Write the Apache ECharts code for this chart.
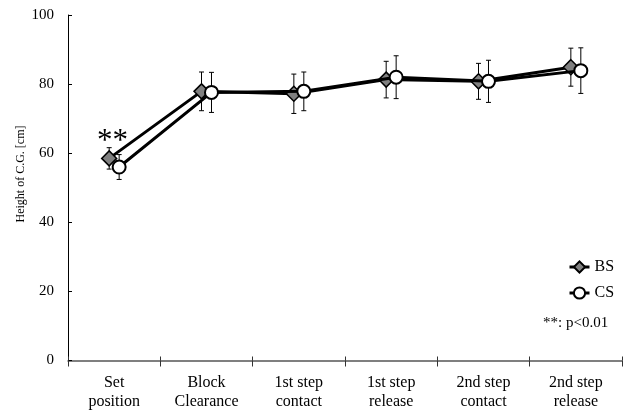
<!DOCTYPE html>
<html>
<head>
<meta charset="utf-8">
<script src="https://cdn.jsdelivr.net/npm/echarts@6/dist/echarts.min.js"></script>
<style>html,body{margin:0;padding:0;background:#fff;}#main{width:631px;height:415px;}</style>
</head>
<body>
<div id="main"></div>
<script>
const categories = ['Set\nposition', 'Block\nClearance', '1st step\ncontact', '1st step\nrelease', '2nd step\ncontact', '2nd step\nrelease'];
const bsMean = [58.5, 77.9, 77.2, 81.3, 80.8, 84.9];
const bsSD   = [3.1, 5.6, 5.7, 5.3, 5.2, 5.5];
const csMean = [56.0, 77.6, 77.9, 82.0, 80.8, 83.9];
const csSD   = [3.6, 5.8, 5.6, 6.2, 6.1, 6.6];
const seriesNames = ['BS', 'CS'];
const sigText = '**';
const noteText = '**: p<0.01';
const yName = 'Height of C.G. [cm]';

const SERIF = '"Liberation Serif", "Times New Roman", serif';
const shift = 0.054; // horizontal dodge between the two groups (category units)

const bsPts = bsMean.map((v, i) => [i - shift, v]);
const csPts = csMean.map((v, i) => [i + shift, v]);
const bsErr = bsMean.map((v, i) => [i - shift, v - bsSD[i], v + bsSD[i]]);
const csErr = csMean.map((v, i) => [i + shift, v - csSD[i], v + csSD[i]]);

function errItem(params, api) {
  const x = api.value(0);
  const lo = api.coord([x, api.value(1)]);
  const hi = api.coord([x, api.value(2)]);
  const c = 2.5;
  const st = { stroke: '#000', lineWidth: 1 };
  return {
    type: 'group',
    children: [
      { type: 'line', shape: { x1: lo[0], y1: lo[1], x2: hi[0], y2: hi[1] }, style: st },
      { type: 'line', shape: { x1: hi[0] - c, y1: hi[1], x2: hi[0] + c, y2: hi[1] }, style: st },
      { type: 'line', shape: { x1: lo[0] - c, y1: lo[1], x2: lo[0] + c, y2: lo[1] }, style: st }
    ]
  };
}

const chart = echarts.init(document.getElementById('main'), null, { renderer: 'canvas' });
chart.setOption({
  animation: false,
  backgroundColor: '#fff',
  grid: { left: 68, right: 9, top: 15, bottom: 54.5, containLabel: false },
  xAxis: [
    {
      type: 'category', data: categories, position: 'bottom', boundaryGap: true,
      axisLine: { onZero: false, lineStyle: { color: '#555', width: 1.5 } },
      axisTick: { show: true, length: 6, lineStyle: { color: '#333', width: 1 } },
      axisLabel: { color: '#000', fontFamily: SERIF, fontSize: 16, lineHeight: 19, margin: 13, interval: 0 },
      splitLine: { show: false }
    },
    {
      type: 'category', data: categories, position: 'bottom', boundaryGap: true,
      axisLine: { show: false, onZero: false },
      axisTick: { show: true, inside: true, length: 4, lineStyle: { color: '#333', width: 1 } },
      axisLabel: { show: false },
      splitLine: { show: false }
    },
    { type: 'value', min: -0.5, max: 5.5, show: false, position: 'bottom', axisLine: { onZero: false } }
  ],
  yAxis: {
    type: 'value', min: 0, max: 100, interval: 20, position: 'left',
    axisLine: { show: true, onZero: false, lineStyle: { color: '#000', width: 1 } },
    axisTick: { show: true, inside: true, length: 4, lineStyle: { color: '#000' } },
    axisLabel: { color: '#000', fontFamily: SERIF, fontSize: 15, margin: 14 },
    splitLine: { show: false }
  },
  legend: {
    orient: 'vertical', left: 563, top: 254, itemWidth: 20, itemHeight: 14, itemGap: 10,
    textStyle: { color: '#000', fontFamily: SERIF, fontSize: 16 },
    lineStyle: { width: 3, color: '#000' },
    data: seriesNames
  },
  graphic: [
    { type: 'text', x: 21, y: 174, rotation: Math.PI / 2,
      style: { text: yName, fill: '#000', font: '12px ' + SERIF, align: 'center', verticalAlign: 'middle' } },
    { type: 'text', left: 543, top: 316, style: { text: noteText, fill: '#000', font: '15px ' + SERIF } },
    { type: 'text', left: 97, top: 126, style: { text: sigText, fill: '#000', font: '31px ' + SERIF } }
  ],
  series: [
    { type: 'custom', name: 'BS err', xAxisIndex: 2, data: bsErr, renderItem: errItem, encode: { x: 0, y: [1, 2] }, z: 1, silent: true },
    { type: 'custom', name: 'CS err', xAxisIndex: 2, data: csErr, renderItem: errItem, encode: { x: 0, y: [1, 2] }, z: 1, silent: true },
    {
      type: 'line', name: seriesNames[0], xAxisIndex: 2, data: bsPts, z: 3,
      symbol: 'diamond', symbolSize: 15, showAllSymbol: true,
      lineStyle: { color: '#000', width: 3 },
      itemStyle: { color: '#808080', borderColor: '#000', borderWidth: 1.5 }
    },
    {
      type: 'line', name: seriesNames[1], xAxisIndex: 2, data: csPts, z: 4,
      symbol: 'circle', symbolSize: 13, showAllSymbol: true,
      lineStyle: { color: '#000', width: 3 },
      itemStyle: { color: '#fff', borderColor: '#000', borderWidth: 2 }
    }
  ]
});
</script>
</body>
</html>
